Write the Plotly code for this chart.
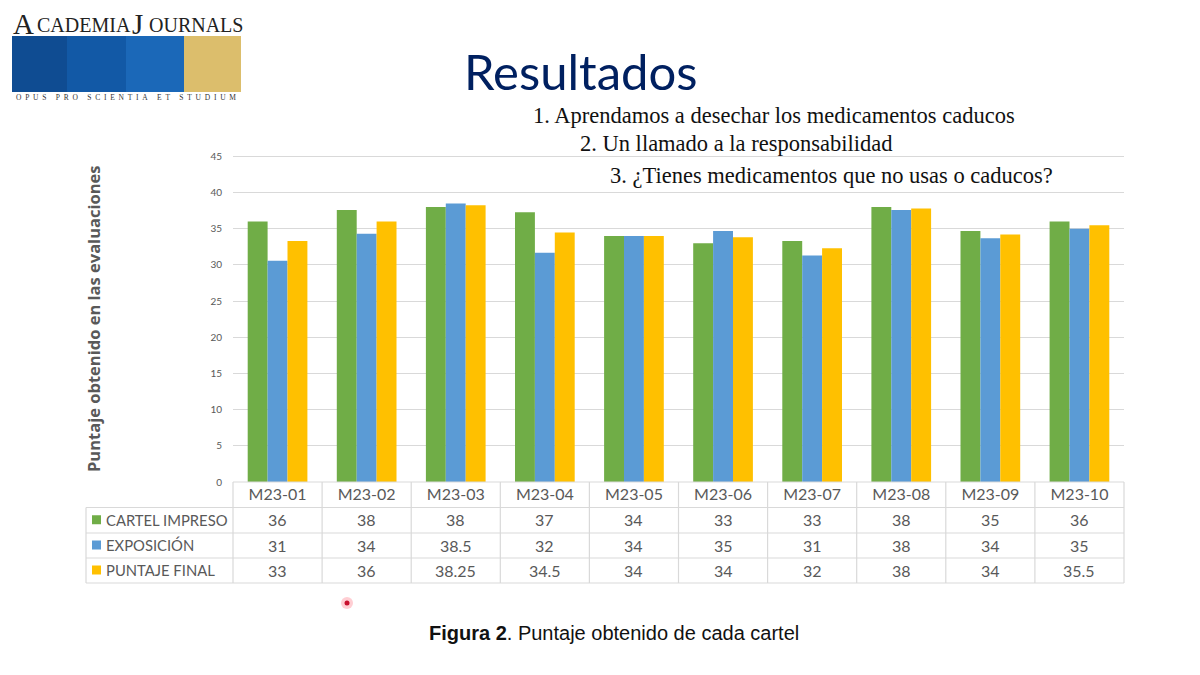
import plotly.graph_objects as go

carteles = ['M23-01', 'M23-02', 'M23-03', 'M23-04', 'M23-05', 'M23-06', 'M23-07', 'M23-08', 'M23-09', 'M23-10']

# bar heights as drawn
impreso = [36, 37.6, 38, 37.3, 34, 33, 33.3, 38, 34.7, 36]
exposicion = [30.6, 34.3, 38.5, 31.7, 34, 34.7, 31.3, 37.6, 33.7, 35]
final = [33.3, 36, 38.25, 34.5, 34, 33.85, 32.3, 37.8, 34.2, 35.5]

# numbers printed in the table under the chart
tabla_impreso = ['36', '38', '38', '37', '34', '33', '33', '38', '35', '36']
tabla_exposicion = ['31', '34', '38.5', '32', '34', '35', '31', '38', '34', '35']
tabla_final = ['33', '36', '38.25', '34.5', '34', '34', '32', '38', '34', '35.5']

series_names = ['CARTEL IMPRESO', 'EXPOSICIÓN', 'PUNTAJE FINAL']
series_colors = ['#70AD47', '#5B9BD5', '#FFC000']
y_ticks = [0, 5, 10, 15, 20, 25, 30, 35, 40, 45]
temas = ['1. Aprendamos a desechar los medicamentos caducos',
         '2. Un llamado a la responsabilidad',
         '3. ¿Tienes medicamentos que no usas o caducos?']

W, H = 1200, 675
PAGE_MARGIN = 8  # default body margin of the html page
LEFT, RIGHT, TOP, BOTTOM = 233, 1124, 154.3, 482
GRID = '#D9D9D9'
TEXT = '#595959'


def px(x):
    return (x - PAGE_MARGIN) / W


def py(y):
    return 1 - (y - PAGE_MARGIN) / H


fig = go.Figure()
for name, values, color in zip(series_names, [impreso, exposicion, final], series_colors):
    fig.add_trace(go.Bar(x=carteles, y=values, name=name, marker_color=color, marker_line_width=0))

shapes = []
annotations = []


def rect(x0, y0, x1, y1, color):
    shapes.append(dict(type='rect', xref='paper', yref='paper', x0=px(x0), x1=px(x1),
                       y0=py(y0), y1=py(y1), fillcolor=color, line_width=0, layer='above'))


def line(x0, y0, x1, y1):
    shapes.append(dict(type='line', xref='paper', yref='paper', x0=px(x0), x1=px(x1),
                       y0=py(y0), y1=py(y1), line=dict(color=GRID, width=1.2), layer='above'))


def text(x, y, s, size, color=TEXT, family='Lato', anchor='center', angle=0):
    annotations.append(dict(x=px(x), y=py(y), xref='paper', yref='paper', text=s, showarrow=False,
                            xanchor=anchor, yanchor='middle', textangle=angle,
                            font=dict(size=size, color=color, family=family)))


# data table under the axis
row_lines = [482, 507.5, 533, 558, 583]
col_w = (RIGHT - LEFT) / len(carteles)
line(LEFT, row_lines[0], RIGHT, row_lines[0])
for y in row_lines[1:]:
    line(86, y, RIGHT, y)
line(86, row_lines[1], 86, row_lines[-1])
for i in range(len(carteles) + 1):
    line(LEFT + i * col_w, row_lines[0], LEFT + i * col_w, row_lines[-1])

for r, (name, color, cells) in enumerate(zip(series_names, series_colors,
                                             [tabla_impreso, tabla_exposicion, tabla_final])):
    yc = (row_lines[r + 1] + row_lines[r + 2]) / 2
    rect(92, yc - 5, 101, yc + 4, color)
    text(104, yc - 0.5, name, 14.8, anchor='left')
    for i, cell in enumerate(cells):
        text(LEFT + (i + 0.5) * col_w, yc - 0.5, cell, 16)

# logo
rect(12, 36, 67, 92, '#0F4C92')
rect(67, 36, 126, 92, '#1259A6')
rect(126, 36, 184, 92, '#1B68B8')
rect(184, 36, 241, 92, '#DCBE6C')
text(11, 24, 'A', 29, color='#222222', family='Liberation Serif', anchor='left')
text(35, 25, 'CADEMIA', 20, color='#222222', family='Liberation Serif', anchor='left')
text(130, 24, 'J', 29, color='#222222', family='Liberation Serif', anchor='left')
text(147, 25, 'OURNALS', 20, color='#222222', family='Liberation Serif', anchor='left')
opus = '\u00a0' * 5
opus = opus.join('\u00a0\u00a0'.join(word) for word in ['OPUS', 'PRO', 'SCIENTIA', 'ET', 'STUDIUM'])
text(126, 97.5, opus, 7.5, color='#333333', family='Liberation Serif')

# slide text
text(580, 71, 'Resultados', 49, color='#002060')
text(531, 115.5, temas[0], 22.5, color='#111111', family='Liberation Serif', anchor='left')
text(578, 143.5, temas[1], 22.5, color='#111111', family='Liberation Serif', anchor='left')
text(608, 175.5, temas[2], 22.5, color='#111111', family='Liberation Serif', anchor='left')
text(94, 319, '<b>Puntaje obtenido en las evaluaciones</b>', 16.5, angle=-90, family='Open Sans')
text(614, 632.5, '<b>Figura 2</b>. Puntaje obtenido de cada cartel', 20, color='#111111',
     family='Liberation Sans')

# red pointer dot
shapes.append(dict(type='circle', xref='paper', yref='paper', x0=px(341), x1=px(353), y0=py(609), y1=py(597),
                   fillcolor='rgba(255,60,80,0.25)', line_width=0, layer='above'))
shapes.append(dict(type='circle', xref='paper', yref='paper', x0=px(344.5), x1=px(349.5), y0=py(605.5), y1=py(600.5),
                   fillcolor='#C8102E', line_width=0, layer='above'))

fig.update_layout(
    width=W, height=H,
    margin=dict(l=0, r=0, t=0, b=0, pad=0, autoexpand=False),
    paper_bgcolor='white', plot_bgcolor='white',
    barmode='group', bargap=0.33, bargroupgap=0,
    showlegend=False,
    shapes=shapes, annotations=annotations,
    font=dict(family='Lato', color=TEXT),
    xaxis=dict(domain=[px(LEFT), px(RIGHT)], showgrid=False, showline=False, ticks='',
               tickfont=dict(size=16, color=TEXT), anchor='y', ticklabelstandoff=1),
    yaxis=dict(domain=[py(BOTTOM), py(TOP)], range=[0, 45.3], tickvals=y_ticks, gridcolor=GRID, gridwidth=1.2,
               showline=False, zeroline=False, ticks='', tickfont=dict(size=10, color=TEXT),
               ticklabelstandoff=10),
)

fig.write_html("out.html")
